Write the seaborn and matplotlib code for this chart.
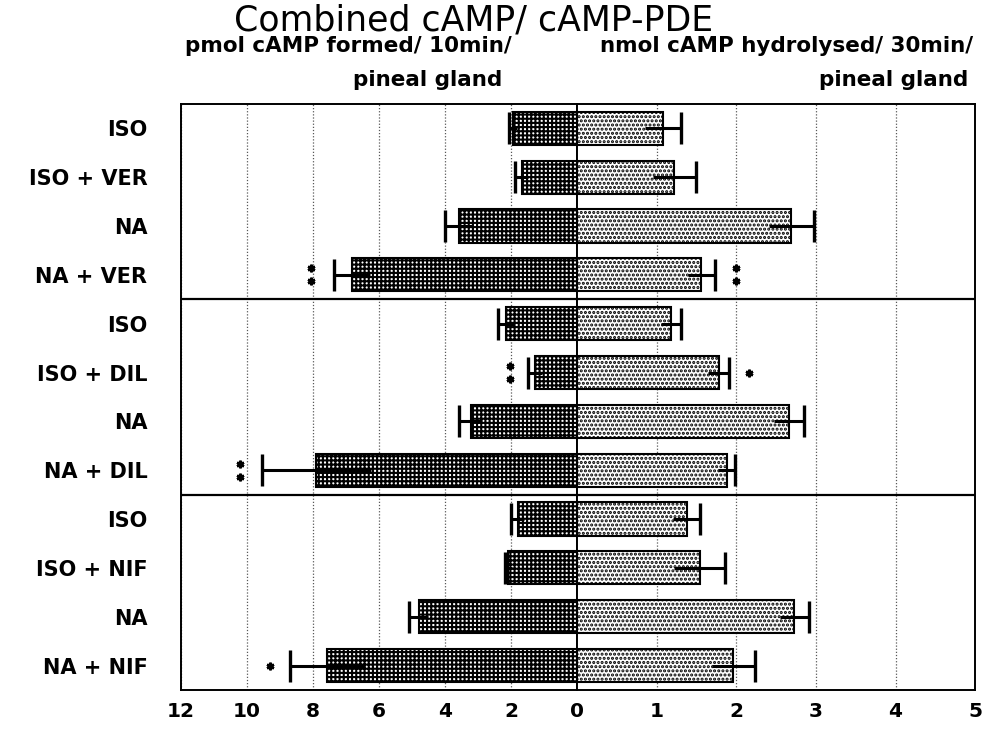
import numpy as np
import pandas as pd
import matplotlib
matplotlib.use("Agg")
import matplotlib.pyplot as plt
import seaborn as sns

# --- data ---
conditions = ["ISO", "ISO + VER", "NA", "NA + VER",
              "ISO", "ISO + DIL", "NA", "NA + DIL",
              "ISO", "ISO + NIF", "NA", "NA + NIF"]
group_sizes = [4, 4, 4]

# left panel: pmol cAMP formed / 10 min / pineal gland
camp_mean = [1.95, 1.68, 3.58, 6.82, 2.15, 1.27, 3.22, 7.90, 1.80, 2.08, 4.80, 7.56]
camp_sem = [0.12, 0.20, 0.42, 0.54, 0.23, 0.21, 0.35, 1.65, 0.20, 0.10, 0.28, 1.14]
camp_sig = [0, 0, 0, 2, 0, 2, 0, 2, 0, 0, 0, 1]
camp_sig_x = [0, 0, 0, 8.05, 0, 2.03, 0, 10.2, 0, 0, 0, 9.3]

# right panel: nmol cAMP hydrolysed / 30 min / pineal gland
pde_mean = [1.08, 1.22, 2.69, 1.56, 1.18, 1.78, 2.66, 1.88, 1.38, 1.54, 2.73, 1.96]
pde_sem = [0.22, 0.27, 0.28, 0.17, 0.13, 0.13, 0.19, 0.11, 0.17, 0.32, 0.18, 0.27]
pde_sig = [0, 0, 0, 2, 0, 1, 0, 0, 0, 0, 0, 0]
pde_sig_x = [0, 0, 0, 2.0, 0, 2.16, 0, 0, 0, 0, 0, 0]

left_ticks = [12, 10, 8, 6, 4, 2, 0]
right_ticks = [1, 2, 3, 4, 5]

# --- style ---
sns.set_style("white", {"text.color": "black", "xtick.color": "black",
                        "ytick.color": "black", "axes.edgecolor": "black"})
plt.rcParams["font.family"] = ["DejaVu Sans"]
plt.rcParams["hatch.linewidth"] = 1.5

df = pd.DataFrame({
    "row": [f"r{i}" for i in range(len(conditions))],
    "condition": conditions,
    "camp": camp_mean,
    "pde": pde_mean,
})
pos = np.arange(len(conditions))

fig = plt.figure(figsize=(9.88, 7.29), dpi=100)
ax_l = fig.add_axes([0.183, 0.0535, 0.401, 0.804])
ax_r = fig.add_axes([0.584, 0.0535, 0.403, 0.804])

sns.barplot(data=df, x="camp", y="row", orient="h", ax=ax_l, color="white",
            saturation=1, edgecolor="black", linewidth=1.5, hatch="++++",
            width=0.68, errorbar=None)
sns.barplot(data=df, x="pde", y="row", orient="h", ax=ax_r, color="white",
            saturation=1, edgecolor="black", linewidth=1.5, hatch="....",
            width=0.68, errorbar=None)


def add_errors(ax, mean, sem, sig, sig_x):
    mean = np.asarray(mean)
    sem = np.asarray(sem)
    ax.errorbar(mean, pos, xerr=sem, fmt="none", ecolor="black",
                elinewidth=2.2, capsize=0, zorder=5)
    # cap only on the outer end
    ax.plot(mean + sem, pos, ls="none", marker="|", ms=23, mew=2.4,
            color="black", zorder=5)
    for y, n, x in zip(pos, sig, sig_x):
        if n == 0:
            continue
        offs = [0.0] if n == 1 else [-0.13, 0.13]
        for o in offs:
            ax.plot(x, y + o, ls="none", marker=(6, 2, 0), ms=5.5, mew=1.8,
                    color="black", zorder=5)


add_errors(ax_l, camp_mean, camp_sem, camp_sig, camp_sig_x)
add_errors(ax_r, pde_mean, pde_sem, pde_sig, pde_sig_x)

ax_l.set_xlim(12, 0)
ax_r.set_xlim(0, 5)
for ax in (ax_l, ax_r):
    ax.set_ylim(len(conditions) - 0.5, -0.5)
    ax.set_xlabel("")
    ax.set_ylabel("")
    ax.grid(axis="x", ls=(0, (1, 1.5)), color="0.35", lw=0.9)
    ax.grid(axis="y", visible=False)
    ax.set_axisbelow(True)
    for s in ax.spines.values():
        s.set_visible(True)
        s.set_color("black")
        s.set_linewidth(1.4)
    for b in np.cumsum(group_sizes)[:-1]:
        ax.axhline(b - 0.5, color="black", lw=1.6)
    ax.tick_params(axis="x", length=0, pad=9, labelsize=14.5)

ax_l.set_xticks(left_ticks)
ax_r.set_xticks(right_ticks)
for ax in (ax_l, ax_r):
    for t in ax.get_xticklabels():
        t.set_fontweight("bold")

ax_l.set_yticks(pos)
ax_l.set_yticklabels(conditions, fontweight="bold", fontsize=15)
ax_l.tick_params(axis="y", length=0, pad=24)
ax_r.set_yticks([])

fig.text(0.479, 0.972, "Combined cAMP/ cAMP-PDE", ha="center", va="center",
         fontsize=25)
fig.text(0.518, 0.937, "pmol cAMP formed/ 10min/", ha="right", va="center",
         fontsize=15.5, fontweight="bold")
fig.text(0.508, 0.890, "pineal gland", ha="right", va="center",
         fontsize=15.5, fontweight="bold")
fig.text(0.985, 0.937, "nmol cAMP hydrolysed/ 30min/", ha="right", va="center",
         fontsize=15.5, fontweight="bold")
fig.text(0.980, 0.890, "pineal gland", ha="right", va="center",
         fontsize=15.5, fontweight="bold")

fig.savefig("out.png", dpi=100)
